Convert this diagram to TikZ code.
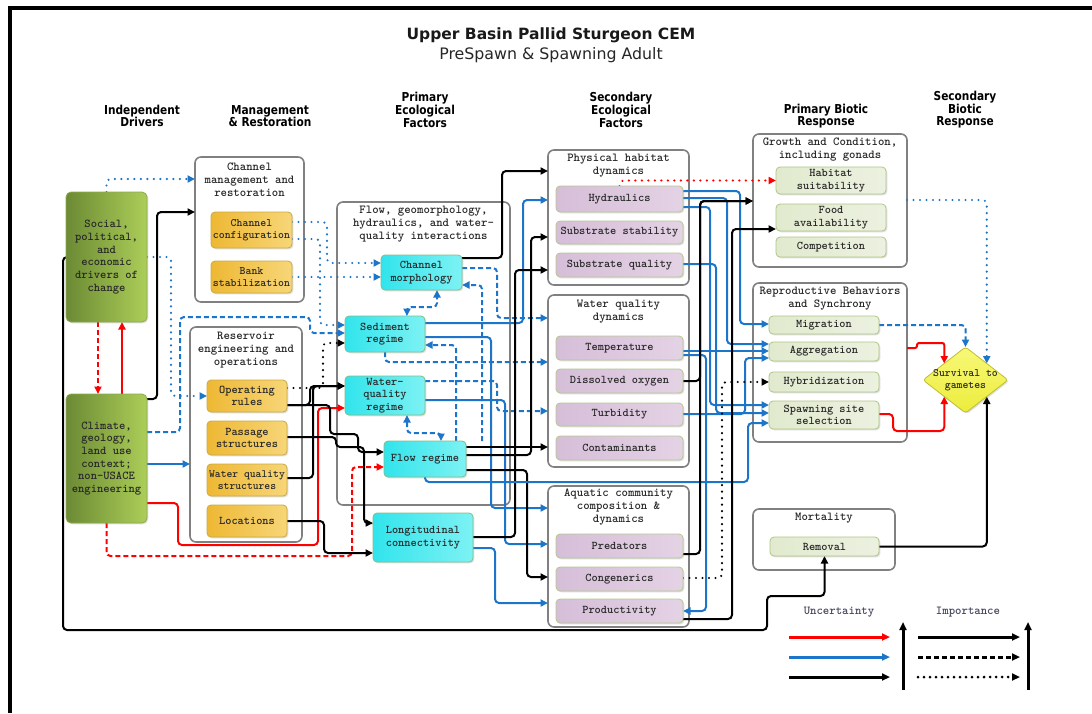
\documentclass[tikz,border=0pt]{standalone}
\usepackage{fontspec}
\usetikzlibrary{arrows.meta,shapes.geometric,shadows}
\newfontfamily\hdr{DejaVu Sans}[FakeStretch=0.86]
\newfontfamily\ttl{DejaVu Sans}
\definecolor{cblue}{RGB}{28,117,200}
\definecolor{cred}{RGB}{255,0,0}
\definecolor{grpline}{RGB}{128,128,128}
\definecolor{txt}{RGB}{40,40,40}
\definecolor{legtxt}{RGB}{70,70,95}
\definecolor{drvA}{RGB}{108,138,52}
\definecolor{drvB}{RGB}{172,206,88}
\definecolor{drvE}{RGB}{140,170,80}
\definecolor{orgA}{RGB}{238,184,52}
\definecolor{orgB}{RGB}{247,214,120}
\definecolor{orgE}{RGB}{200,170,70}
\definecolor{cyA}{RGB}{50,228,236}
\definecolor{cyB}{RGB}{125,242,244}
\definecolor{cyE}{RGB}{130,190,140}
\definecolor{lilA}{RGB}{214,190,216}
\definecolor{lilB}{RGB}{228,210,229}
\definecolor{lilE}{RGB}{180,200,145}
\definecolor{pgA}{RGB}{225,234,206}
\definecolor{pgB}{RGB}{236,241,224}
\definecolor{pgE}{RGB}{175,198,135}
\definecolor{yelA}{RGB}{236,236,60}
\definecolor{yelB}{RGB}{248,248,120}
\definecolor{yelE}{RGB}{190,190,50}

\pgfdeclarelayer{grp}
\pgfdeclarelayer{lin}
\pgfsetlayers{grp,lin,main}

% box node given by its corners: style, name, x1, y1, x2, y2, text
\newcommand\bn[7]{\node[#1, minimum width={(#5-#3)*1pt}, minimum height={(#6-#4)*1pt}] (#2) at ({(#3+#5)/2},{(#4+#6)/2}) {#7};}

\begin{document}
\begin{tikzpicture}[x=1pt,y=-1pt,
  >={Triangle[length=7.5pt,width=7pt]},
  base/.style={inner sep=0pt, outer sep=0pt, align=center, text=txt,
    font=\fontsize{11.8}{12.7}\selectfont\ttfamily\bfseries, rounded corners=4pt, line width=0.8pt,
    drop shadow={shadow xshift=1.3pt,shadow yshift=-1.3pt,opacity=0.25}},
  drv/.style={base, draw=drvE, left color=drvA, right color=drvB,
    font=\fontsize{12}{12.7}\selectfont\ttfamily\bfseries, rounded corners=5pt},
  org/.style={base, draw=orgE, left color=orgA, right color=orgB},
  cy/.style={base, draw=cyE, left color=cyA, right color=cyB},
  lil/.style={base, draw=lilE, left color=lilA, right color=lilB},
  pg/.style={base, draw=pgE, left color=pgA, right color=pgB},
  grp/.style={draw=grpline, line width=1.6pt, rounded corners=6pt, fill=white, inner sep=0pt, outer sep=0pt},
  gtitle/.style={align=center, text=txt, inner sep=0pt, font=\fontsize{12.2}{12.8}\selectfont\ttfamily\bfseries},
  hd/.style={align=center, inner sep=0pt, text=black, font=\fontsize{12.3}{12.6}\selectfont\hdr\bfseries},
  cn/.style={line width=2pt, rounded corners=4pt, ->},
  bs/.style={cn, color=cblue},
  bd/.style={bs, dash pattern=on 5pt off 3pt},
  bo/.style={bs, line width=2.4pt, line cap=round, dash pattern=on 0pt off 6.5pt},
  ks/.style={cn, color=black},
  ko/.style={ks, line width=2.4pt, line cap=round, dash pattern=on 0pt off 6.5pt},
  rs/.style={cn, color=cred},
  rd/.style={rs, dash pattern=on 5pt off 3pt},
  ro/.style={rs, line width=2.4pt, line cap=round, dash pattern=on 0pt off 6.5pt},
  leg/.style={line width=3pt, -{Triangle[length=8pt,width=7pt]}}
]
\useasboundingbox (0,0) rectangle (1092,713);

% page frame
\draw[line width=3.5pt] (10,713) -- (10,8) -- (1092,8);

% title and column headers
\node[font=\fontsize{15.5}{18}\selectfont\ttl\bfseries, text=black!90] (ttl) at (551,35) {Upper Basin Pallid Sturgeon CEM};
\node[font=\fontsize{15.8}{18}\selectfont\ttl, text=black!85] (sub) at (551,55) {PreSpawn \& Spawning Adult};
\node[hd] (h1) at (142,116) {Independent\\Drivers};
\node[hd] (h2) at (270,116) {Management\\\& Restoration};
\node[hd] (h3) at (425,110) {Primary\\Ecological\\Factors};
\node[hd] (h4) at (621,110) {Secondary\\Ecological\\Factors};
\node[hd] (h5) at (826,116) {Primary Biotic\\Response};
\node[hd] (h6) at (965,110) {Secondary\\Biotic\\Response};

% group frames
\begin{pgfonlayer}{grp}
\bn{grp}{gChan}{195}{157}{304}{302}{}
\bn{grp}{gRes}{190}{327}{302}{542}{}
\bn{grp}{gFlow}{337}{202}{510}{505}{}
\bn{grp}{gPhys}{548}{150}{689}{285}{}
\bn{grp}{gWQ}{548}{295}{689}{467}{}
\bn{grp}{gAq}{548}{486}{689}{627}{}
\bn{grp}{gGrow}{753}{134}{907}{267}{}
\bn{grp}{gRep}{753}{283}{907}{442}{}
\bn{grp}{gMort}{753}{509}{895}{570}{}
\end{pgfonlayer}

\node[gtitle] (tChan) at (249.5,180) {Channel\\management and\\restoration};
\node[gtitle] (tRes) at (246,350) {Reservoir\\engineering and\\operations};
\node[gtitle] (tFlow) at (423.5,224) {Flow, geomorphology,\\hydraulics, and water-\\quality interactions};
\node[gtitle] (tPhys) at (618.5,166) {Physical habitat\\dynamics};
\node[gtitle] (tWQ) at (618.5,311.5) {Water quality\\dynamics};
\node[gtitle] (tAq) at (618.5,507) {Aquatic community\\composition \&\\dynamics};
\node[gtitle] (tGrow) at (830,149.5) {Growth and Condition,\\including gonads};
\node[gtitle] (tRep) at (830,298.5) {Reproductive Behaviors\\and Synchrony};
\node[gtitle] (tMort) at (824,518) {Mortality};

% independent drivers
\bn{drv}{soc}{66}{192}{147}{322}{Social,\\political,\\and\\economic\\drivers of\\change}
\bn{drv}{cli}{66}{394}{147}{523}{Climate,\\geology,\\land use\\context;\\non-USACE\\engineering}

% management and restoration
\bn{org, font=\fontsize{11.3}{12.2}\selectfont\ttfamily\bfseries}{cc}{211}{212}{292}{248}{Channel\\configuration}
\bn{org, font=\fontsize{11.3}{12.2}\selectfont\ttfamily\bfseries}{bst}{211}{261}{292}{293}{Bank\\stabilization}
\bn{org}{opr}{207}{380}{287}{412}{Operating\\rules}
\bn{org}{ps}{207}{421}{287}{455}{Passage\\structures}
\bn{org, font=\fontsize{11.1}{12.2}\selectfont\ttfamily\bfseries}{wqs}{207}{464}{287}{496}{Water quality\\structures}
\bn{org}{loc}{207}{505}{287}{537}{Locations}

% primary ecological factors
\bn{cy}{cm}{381}{255}{462}{290}{Channel\\morphology}
\bn{cy}{sr}{345}{316}{425}{352}{Sediment\\regime}
\bn{cy}{wqr}{345}{376}{425}{415}{Water-\\quality\\regime}
\bn{cy}{fr}{384}{441}{466}{477}{Flow regime}
\bn{cy}{lc}{373}{513}{473}{562}{Longitudinal\\connectivity}

% secondary ecological factors
\bn{lil}{hyd}{556}{186}{683}{212}{Hydraulics}
\bn{lil}{sst}{556}{221}{683}{244}{Substrate stability}
\bn{lil}{squ}{556}{253}{683}{277}{Substrate quality}
\bn{lil}{tem}{556}{336}{683}{360}{Temperature}
\bn{lil}{dox}{556}{369}{683}{393}{Dissolved oxygen}
\bn{lil}{tur}{556}{403}{683}{426}{Turbidity}
\bn{lil}{con}{556}{436}{683}{460}{Contaminants}
\bn{lil}{pre}{556}{534}{683}{558}{Predators}
\bn{lil}{cong}{556}{567}{683}{591}{Congenerics}
\bn{lil}{pro}{556}{599}{683}{623}{Productivity}

% primary biotic response
\bn{pg}{hs}{776}{167}{886}{194}{Habitat\\suitability}
\bn{pg}{fa}{776}{204}{886}{231}{Food\\availability}
\bn{pg}{comp}{776}{237}{886}{257}{Competition}
\bn{pg}{mig}{769}{316}{879}{334}{Migration}
\bn{pg}{agg}{769}{342}{879}{361}{Aggregation}
\bn{pg}{hyb}{769}{372}{879}{392}{Hybridization}
\bn{pg}{sps}{769}{401}{879}{429}{Spawning site\\selection}
\bn{pg}{rem}{770}{537}{879}{556}{Removal}

% secondary biotic response
\node[shape=diamond, draw=yelE, top color=yelB, bottom color=yelA, line width=0.8pt,
  minimum width=85pt, minimum height=66pt, inner sep=0pt, outer sep=0pt, rounded corners=3pt,
  drop shadow={shadow xshift=1.3pt,shadow yshift=-1.3pt,opacity=0.25}] (dia) at (965.5,380) {};
\node[align=center, text=txt, inner sep=0pt, font=\fontsize{11.2}{12}\selectfont\ttfamily\bfseries] (diat) at (dia.center) {Survival to\\gametes};

\begin{pgfonlayer}{lin}
% from the drivers
\draw[bo] (soc.north) |- (gChan.west |- 0,179);
\draw[ks] (cli.east |- 0,399) -- (157,399) |- (gChan.west |- 0,212);
\draw[ks] (soc.west) -- (63,257) -- (63,630) -- (767,630) -- (767,596) -| (rem.south);
\draw[rd] (soc.south -| 98,0) -- (cli.north -| 98,0);
\draw[rs] (cli.north -| 122,0) -- (soc.south -| 122,0);
\draw[bo] (soc.east) -- (171,257) |- (opr.west);
\draw[bd] (cli.east |- 0,432) -- (180,432) -- (180,317) -- (310,317) |- (sr.west |- 0,333);
\draw[bs] (cli.east |- 0,464) -- (gRes.west |- 0,464);
\draw[rs] (cli.east |- 0,503) -- (178,503) -- (178,545) -- (318,545) |- (wqr.west |- 0,408);
\draw[rd] (cli.south) -- (106.5,556) -| (352,467) -- (fr.west |- 0,467);

% from channel management
\draw[bo] (cc.east |- 0,222) -- (327,222) |- (cm.west |- 0,263);
\draw[bo] (cc.east |- 0,239) -- (320,239) |- (sr.west |- 0,325);
\draw[bo] (bst.east |- 0,277) -- (cm.west |- 0,277);

% from reservoir operations
\draw[ko] (opr.east |- 0,388) -- (323,388) |- (sr.west |- 0,343);
\draw[ks] (opr.east |- 0,405) -- (310,405) |- (wqr.west |- 0,386);
\draw[ks] (opr.east |- 0,405) -- (330,405) -- (330,434) -- (358,434) |- (fr.west |- 0,452);
\draw[ks] (wqs.east |- 0,478) -- (313,478) |- (wqr.west |- 0,386);
\draw[ks] (ps.east |- 0,437) -- (336,437) -- (336,447) -- (364,447) |- (lc.west |- 0,523);
\draw[ks] (loc.east |- 0,521) -- (324,521) |- (lc.west |- 0,553);

% among primary ecological factors
\draw[bd,<->] (sr.north -| 407,0) -- (407,307) -| (cm.south -| 437,0);
\draw[bd,<->] (wqr.south -| 407,0) -- (407,433) -| (fr.north -| 441,0);
\draw[bd] (fr.north -| 482,0) |- (cm.east |- 0,285);
\draw[bd] (fr.north -| 456,0) |- (sr.east |- 0,345);

% to secondary ecological factors
\draw[bd] (cm.east |- 0,268) -- (497,268) |- (gWQ.west |- 0,318);
\draw[bd] (sr.south -| 385,0) |- (gWQ.west |- 0,362);
\draw[bd] (wqr.east |- 0,381) -- (497,381) |- (gWQ.west |- 0,411);
\draw[ks] (cm.east |- 0,258) -- (502,258) |- (gPhys.west |- 0,171);
\draw[bs] (sr.east |- 0,323) -- (523,323) |- (gPhys.west |- 0,200);
\draw[bs] (sr.east |- 0,337) -- (491,337) |- (gAq.west |- 0,508);
\draw[bs] (wqr.east |- 0,400) -- (505,400) |- (gAq.west |- 0,544);
\draw[ks] (fr.east |- 0,447) -- (gWQ.west |- 0,447);
\draw[ks] (fr.east |- 0,455) -- (531,455) |- (gPhys.west |- 0,237);
\draw[ks] (lc.east |- 0,537) -- (515,537) |- (gPhys.west |- 0,270);
\draw[ks] (fr.east |- 0,470) -- (527,470) |- (gAq.west |- 0,577);
\draw[bs] (lc.east |- 0,548) -- (495,548) |- (gAq.west |- 0,603);
\draw[bs] (fr.south -| 425,0) -- (425,482) -| (748,423) -- (sps.west |- 0,423);

% to primary biotic response
\draw[ro] (hyd.north) |- (hs.west);
\draw[bs] (hyd.east |- 0,191) -- (740,191) |- (mig.west |- 0,324);
\draw[bs] (hyd.east |- 0,198) -- (727,198) |- (agg.west |- 0,344);
\draw[bs] (hyd.east |- 0,207) -- (710,207) |- (sps.west |- 0,405);
\draw[bs] (squ.east |- 0,264) -- (716,264) |- (sps.west |- 0,413);
\draw[bs] (tem.east |- 0,351) -- (agg.west |- 0,351);
\draw[bs] (tem.east |- 0,355) -- (706,355) |- (pro.east |- 0,611);
\draw[bs] (tur.east |- 0,414) -- (745,414) |- (agg.west |- 0,358);
\draw[ks] (pre.east |- 0,554) -- (700,554) |- (gGrow.west |- 0,201);
\draw[ks] (dox.east |- 0,381) -- (700,381) |- (gGrow.west |- 0,201);
\draw[ks] (pro.east |- 0,619) -- (732,619) |- (fa.west |- 0,229);
\draw[ko] (cong.east |- 0,578) -- (722,578) |- (hyb.west |- 0,382);

% to secondary biotic response
\draw[bo] (gGrow.east |- 0,200) -| (dia.north east);
\draw[bd] (mig.east) -| (dia.north);
\draw[rs, rounded corners=2pt] (gRep.east |- 0,348) -- (917,348) -- (917,343) -- (944.25,343) -- (dia.north west);
\draw[rs] (sps.east |- 0,414) -- (893,414) -- (893,431) -| (dia.south west);
\draw[ks] (rem.east) -| (dia.south east);
\end{pgfonlayer}

% legend
\node[gtitle, text=legtxt] (lgU) at (839,612) {Uncertainty};
\node[gtitle, text=legtxt] (lgI) at (968,612) {Importance};
\coordinate (u1a) at (789,637); \coordinate (u1b) at (890,637);
\coordinate (u2a) at (789,657); \coordinate (u2b) at (890,657);
\coordinate (u3a) at (789,677); \coordinate (u3b) at (890,677);
\coordinate (uva) at (903,690); \coordinate (uvb) at (903,622);
\coordinate (i1a) at (918,637); \coordinate (i1b) at (1020,637);
\coordinate (i2a) at (918,657); \coordinate (i2b) at (1020,657);
\coordinate (i3a) at (918,677); \coordinate (i3b) at (1020,677);
\coordinate (iva) at (1028,690); \coordinate (ivb) at (1028,622);
\draw[leg, color=cred] (u1a) -- (u1b);
\draw[leg, color=cblue] (u2a) -- (u2b);
\draw[leg, color=black] (u3a) -- (u3b);
\draw[leg, color=black] (uva) -- (uvb);
\draw[leg, color=black] (i1a) -- (i1b);
\draw[leg, color=black, dash pattern=on 5pt off 3pt] (i2a) -- (i2b);
\draw[leg, color=black, line cap=round, dash pattern=on 0pt off 6pt] (i3a) -- (i3b);
\draw[leg, color=black] (iva) -- (ivb);
\end{tikzpicture}
\end{document}
